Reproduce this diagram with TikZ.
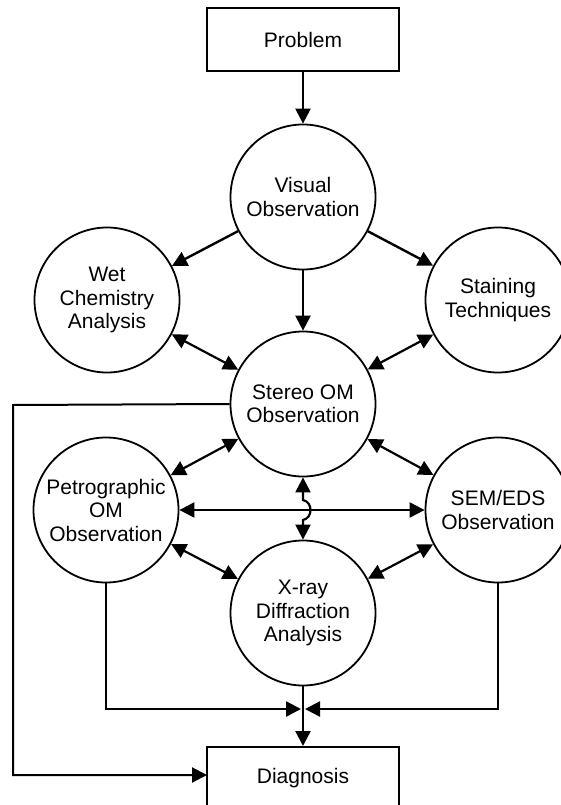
\documentclass[tikz,border=0pt]{standalone}
\usepackage{fontspec}
\setmainfont{Liberation Sans}
\usetikzlibrary{arrows.meta}
\begin{document}
\begin{tikzpicture}[x=1pt,y=-1pt,
  txt/.style={font=\fontsize{21}{23.5}\selectfont, align=center},
  circ/.style={txt, circle, draw, line width=1.8pt, minimum size=145pt, inner sep=0pt},
  boxnode/.style={txt, draw, line width=2pt, minimum width=192pt, minimum height=63pt, inner sep=0pt},
  conn/.style={line width=2.4pt, -{Triangle[length=15pt,width=15pt]}},
  bconn/.style={line width=2.2pt, {Triangle[length=15pt,width=15pt]}-{Triangle[length=15pt,width=15pt]}},
  plainline/.style={line width=2pt}]
\useasboundingbox (0,0) rectangle (560,805);
\node[boxnode] (prob) at (303,39.5) {Problem};
\node[boxnode] (diag) at (303,778.5) {Diagnosis};
\node[circ] (vis) at (303,197) {Visual\\Observation};
\node[circ] (wet) at (107,300) {Wet\\Chemistry\\Analysis};
\node[circ] (stain) at (498,300) {Staining\\Techniques};
\node[circ] (ster) at (303,404) {Stereo OM\\Observation};
\node[circ] (pet) at (106,510) {Petrographic\\OM\\Observation};
\node[circ] (sem) at (498,510) {SEM/EDS\\Observation};
\node[circ] (xr) at (303,613) {X-ray\\Diffraction\\Analysis};
\coordinate (hopA) at (303,500);
\coordinate (hopB) at (303,520);
\coordinate (lc1) at (13,405);
\coordinate (lc2) at (13,775);
\coordinate (lc3) at (207,775);
\coordinate (meet) at (303,709);
\coordinate (pc) at (106,709);
\coordinate (sc) at (498,709);
\coordinate (pin) at (301,709);
\coordinate (sin) at (305,709);
% arrows
\draw[conn] (prob) -- (vis);
\draw[conn] (vis) -- (wet);
\draw[conn] (vis) -- (stain);
\draw[conn] (vis) -- (ster);
\draw[bconn] (wet) -- (ster);
\draw[bconn] (stain) -- (ster);
\draw[bconn] (ster) -- (pet);
\draw[bconn] (ster) -- (sem);
\draw[bconn] (pet) -- (xr);
\draw[bconn] (sem) -- (xr);
\draw[bconn] (pet) -- (sem);
\draw[bconn] (ster.south) -- (hopA) .. controls (313,502) and (313,518) .. (hopB) -- (xr.north);
\draw[conn, line width=2pt] (ster.west) -- (lc1) -- (lc2) -- (lc3);
\draw[conn] (pet.south) -- (pc) -- (pin);
\draw[conn] (sem.south) -- (sc) -- (sin);
\draw[conn] (xr.south) -- (diag.north);
\end{tikzpicture}
\end{document}
